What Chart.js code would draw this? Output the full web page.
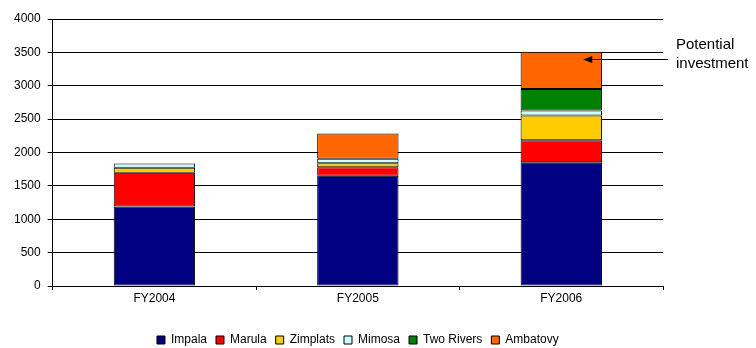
<!DOCTYPE html>
<html>
<head>
<meta charset="utf-8">
<script src="https://cdn.jsdelivr.net/npm/chart.js@4/dist/chart.umd.min.js"></script>
<style>
  html, body { margin: 0; padding: 0; background: #fff; }
  #wrap { width: 756px; height: 348px; }
</style>
</head>
<body>
<div id="wrap"><canvas id="myChart"></canvas></div>
<script>
const years = ["FY2004", "FY2005", "FY2006"];
const impala = [1190, 1650, 1855];
const marula = [505, 130, 330];
const zimplats = [78, 60, 370];
const mimosa = [63, 65, 75];
const twoRivers = [0, 0, 320];
const ambatovy = [0, 380, 560];
const yTicks = [0, 500, 1000, 1500, 2000, 2500, 3000, 3500, 4000];
const noteLines = ["Potential", "investment"];
const noteValue = 3400;

const fontName = "'Liberation Sans', Arial, sans-serif";

// arrow + text pointing at the last bar
const notePlugin = {
    id: "note",
    afterDraw(chart) {
        const ctx = chart.ctx;
        const area = chart.chartArea;
        const y = Math.round(chart.scales.y.getPixelForValue(noteValue));
        const bar = chart.getDatasetMeta(5).data[2];
        const tip = bar.x + bar.width * 0.27;
        const start = area.right + 5;
        ctx.save();
        ctx.strokeStyle = "#000";
        ctx.fillStyle = "#000";
        ctx.lineWidth = 1;
        ctx.beginPath();
        ctx.moveTo(start, y + 0.5);
        ctx.lineTo(tip + 6, y + 0.5);
        ctx.stroke();
        ctx.beginPath();
        ctx.moveTo(tip, y + 0.5);
        ctx.lineTo(tip + 9, y - 3);
        ctx.lineTo(tip + 9, y + 4);
        ctx.closePath();
        ctx.fill();
        ctx.font = "15px " + fontName;
        ctx.textBaseline = "middle";
        ctx.fillText(noteLines[0], area.right + 13, y - 14);
        ctx.fillText(noteLines[1], area.right + 13, y + 5);
        ctx.restore();
    }
};

function ds(label, data, color) {
    return {
        label: label,
        data: data,
        backgroundColor: color,
        borderColor: "#000",
        borderWidth: 1,
        borderSkipped: false,
        categoryPercentage: 1,
        barPercentage: 0.4,
    };
}

const graph = document.getElementById("myChart").getContext("2d");
const myChart = new Chart(graph, {
    type: "bar",
    data: {
        labels: years,
        datasets: [
            ds("Impala", impala, "#000080"),
            ds("Marula", marula, "#FF0000"),
            ds("Zimplats", zimplats, "#FFCC00"),
            ds("Mimosa", mimosa, "#CCFFFF"),
            ds("Two Rivers", twoRivers, "#008000"),
            ds("Ambatovy", ambatovy, "#FF6600"),
        ],
    },
    plugins: [notePlugin],
    options: {
        responsive: true,
        maintainAspectRatio: false,
        animation: false,
        layout: { padding: { top: 19, right: 93, left: 7, bottom: -8 } },
        plugins: {
            tooltip: { enabled: false },
            legend: {
                position: "bottom",
                fullSize: false,
                labels: {
                    boxWidth: 8,
                    boxHeight: 8,
                    padding: 9,
                    color: "#000",
                    font: { family: fontName, size: 12 },
                },
            },
        },
        scales: {
            x: {
                stacked: true,
                offset: true,
                afterFit(axis) {
                    axis.height = 39;
                },
                grid: {
                    offset: true,
                    drawOnChartArea: false,
                    color: "#000",
                    tickLength: 4,
                },
                border: { color: "#000" },
                ticks: { color: "#000", font: { family: fontName, size: 12 }, padding: 1 },
            },
            y: {
                stacked: true,
                min: 0,
                max: 4000,
                afterBuildTicks(axis) {
                    axis.ticks = yTicks.map(v => ({ value: v }));
                },
                grid: { color: "#000", tickLength: 5 },
                border: { color: "#000" },
                ticks: {
                    color: "#000",
                    font: { family: fontName, size: 12 },
                    padding: 7,
                    callback: v => String(v),
                },
            },
        },
    },
});
</script>
</body>
</html>
